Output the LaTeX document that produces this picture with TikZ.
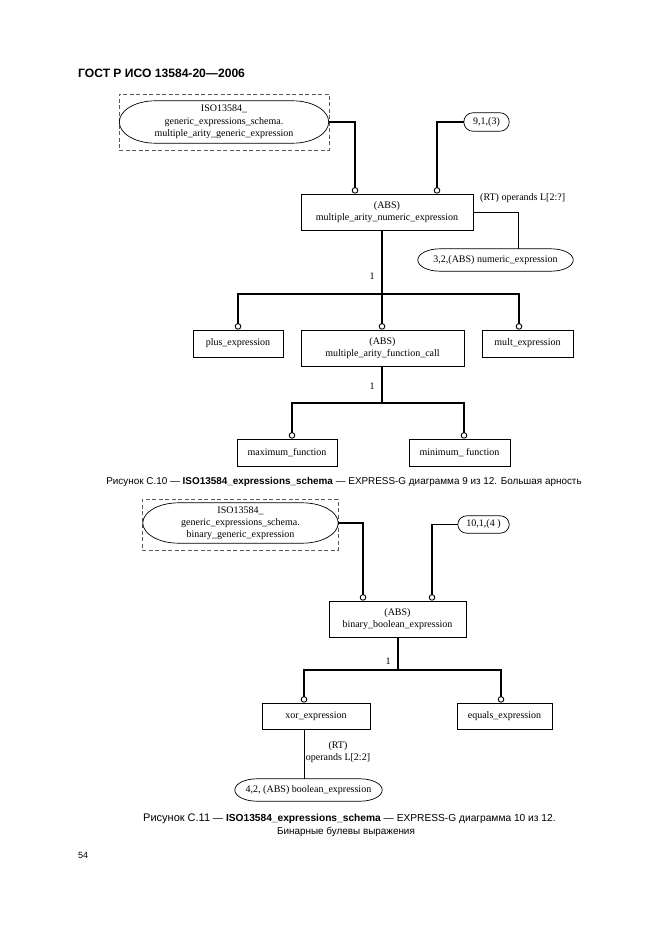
\documentclass[tikz,border=0pt]{standalone}
\usepackage{fontspec}
\setmainfont{Liberation Serif}
\setsansfont{Liberation Sans}
\usetikzlibrary{arrows.meta,calc}

% border with elliptic ends round a named node
\newcommand{\capsule}[2]{%
  \draw[line width=.7pt] let \p1=(#1.north east), \p2=(#1.south west), \n1={(\y1-\y2)/2} in
    (\x2+#2,\y1) -- (\x1-#2,\y1)
    arc[start angle=90,end angle=-90,x radius=#2,y radius=\n1]
    -- (\x2+#2,\y2)
    arc[start angle=270,end angle=90,x radius=#2,y radius=\n1] -- cycle;}

\begin{document}
\begin{tikzpicture}
	[x=1pt,y=-1pt,
	every node/.style={font=\fontsize{10}{12.5}\selectfont,inner sep=1pt},
	entity/.style={draw,line width=.7pt,align=center},
	schemaref/.style={align=center},
	frame/.style={draw=black!65,line width=.8pt,dash pattern=on 4pt off 2.5pt},
	supline/.style={line width=1.6pt,-{Circle[open,length=6.5pt,width=6.5pt,line width=.9pt]}},
	barline/.style={line width=1.6pt},
	attrline/.style={line width=.6pt},
	caption/.style={font=\sffamily\fontsize{9.9}{11}\selectfont}]
	\useasboundingbox (0,0) rectangle (661,936);
	\node[anchor=west,font=\sffamily\bfseries\fontsize{12.1}{14}\selectfont] (title) at (77,73) {ГОСТ Р ИСО 13584-20—2006};

	% figure C.10
	\node[frame,minimum width=210pt,minimum height=56pt] (frame1) at (224,122) {};
	\node[schemaref,minimum width=209pt,minimum height=42pt] (sch1) at (224,122)
		{ISO13584\_\\generic\_expressions\_schema.\\multiple\_arity\_generic\_expression};
	\capsule{sch1}{36pt}
	\node[minimum width=45pt,minimum height=18pt] (ref1) at (486.5,122) {9,1,(3)};
	\capsule{ref1}{9pt}
	\node[entity,minimum width=172pt,minimum height=36pt] (ent1) at (387,212)
		{(ABS)\\multiple\_arity\_numeric\_expression};
	\node[anchor=west] (role1) at (479,198) {(RT) operands L[2:?]};
	\node[minimum width=155pt,minimum height=22pt] (ref2) at (495.5,260) {3,2,(ABS) numeric\_expression};
	\capsule{ref2}{22pt}
	\draw[supline] (sch1.east) -| ([xshift=-32pt]ent1.north);
	\draw[supline] (ref1.west) -| ([xshift=50pt]ent1.north);
	\draw[attrline] (ent1.east) -| ([xshift=22.5pt]ref2.north);

	\coordinate (bar1) at (382,294);
	\node (one1) at (372,276) {1};
	\node[entity,minimum width=90pt,minimum height=27pt] (plus) at (238,343.5) {plus\_expression};
	\node[entity,minimum width=163pt,minimum height=36pt] (call) at (382.5,348)
		{(ABS)\\multiple\_arity\_function\_call};
	\node[entity,minimum width=91pt,minimum height=27pt] (mult) at (527.5,343.5) {mult\_expression};
	\draw[barline] (ent1.south -| bar1) -- (bar1);
	\draw[supline] (bar1) -| (plus.north);
	\draw[supline] (bar1) -- (bar1 |- call.north);
	\draw[supline] (bar1) -| ([xshift=-8.5pt]mult.north);

	\coordinate (bar2) at (382,403);
	\node (one2) at (372,386) {1};
	\node[entity,minimum width=100pt,minimum height=27pt] (maxf) at (287,452.5) {maximum\_function};
	\node[entity,minimum width=101pt,minimum height=27pt] (minf) at (459.5,452.5) {minimum\_ function};
	\draw[barline] (call.south -| bar2) -- (bar2);
	\draw[supline] (bar2) -| ([xshift=5pt]maxf.north);
	\draw[supline] (bar2) -| ([xshift=4.5pt]minf.north);

	\node[caption] (cap1) at (344,482) {Рисунок С.10 — \textbf{ISO13584\_expressions\_schema} — EXPRESS-G диаграмма 9 из 12. Большая арность};

	% figure C.11
	\node[frame,minimum width=196pt,minimum height=51pt] (frame2) at (240,524.5) {};
	\node[schemaref,minimum width=195pt,minimum height=40pt,font=\fontsize{10}{12}\selectfont] (sch2) at (240.5,523)
		{ISO13584\_\\generic\_expressions\_schema.\\binary\_generic\_expression};
	\capsule{sch2}{36pt}
	\node[minimum width=51pt,minimum height=17pt] (ref3) at (483.5,524.5) {10,1,(4 )};
	\capsule{ref3}{9pt}
	\node[entity,minimum width=137pt,minimum height=36pt] (ent2) at (397.5,619)
		{(ABS)\\binary\_boolean\_expression};
	\draw[supline] (sch2.east) -| ([xshift=-34.5pt]ent2.north);
	\draw[supline] (ref3.west) -| ([xshift=34.5pt]ent2.north);

	\coordinate (bar3) at (398,670);
	\node (one3) at (388,661) {1};
	\node[entity,minimum width=108pt,minimum height=26pt] (xor) at (316,716) {xor\_expression};
	\node[entity,minimum width=95pt,minimum height=26pt] (eq) at (504.5,716) {equals\_expression};
	\draw[barline] (ent2.south -| bar3) -- (bar3);
	\draw[supline] (bar3) -| ([xshift=-12pt]xor.north);
	\draw[supline] (bar3) -| ([xshift=-3.5pt]eq.north);
	\node[minimum width=147pt,minimum height=22pt] (ref4) at (308.5,790) {4,2, (ABS) boolean\_expression};
	\capsule{ref4}{22pt}
	\draw[attrline] ([xshift=-12pt]xor.south) -- ([xshift=-12pt]xor.south |- ref4.north);
	\node[align=center,font=\fontsize{10}{11.5}\selectfont] (role2) at (338,752) {(RT)\\operands L[2:2]};

	\node[caption,anchor=west,font=\sffamily\fontsize{10.2}{11}\selectfont] (cap2) at (142,819) {{\fontsize{11}{11}\selectfont Рисунок С.11} — \textbf{ISO13584\_expressions\_schema} — EXPRESS-G диаграмма 10 из 12.};
	\node[caption] (cap2b) at (346,831.5) {Бинарные булевы выражения};
	\node[anchor=west,font=\sffamily\fontsize{9}{10}\selectfont] (page) at (77,855) {54};
\end{tikzpicture}
\end{document}
